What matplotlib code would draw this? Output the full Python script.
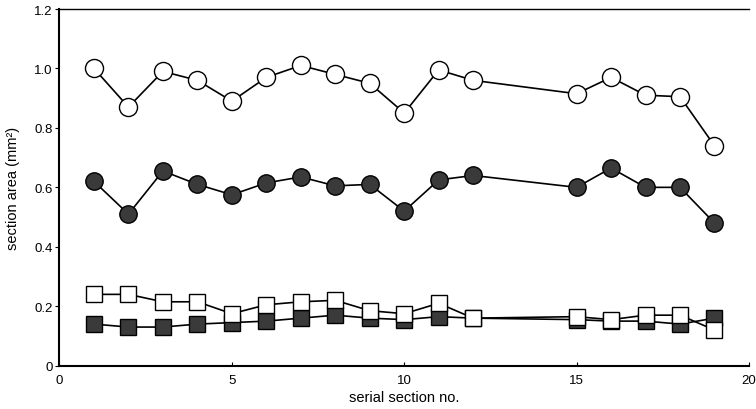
import matplotlib.pyplot as plt
import numpy as np

plt.rcParams['font.family'] = ['Liberation Sans', 'DejaVu Sans']

# serial section numbers (13 and 14 missing)
sec = [1, 2, 3, 4, 5, 6, 7, 8, 9, 10, 11, 12, 15, 16, 17, 18, 19]

open_circ = [1.00, 0.87, 0.99, 0.96, 0.89, 0.97, 1.01, 0.98, 0.95, 0.85,
             0.995, 0.96, 0.915, 0.97, 0.91, 0.905, 0.74]
fill_circ = [0.62, 0.51, 0.655, 0.61, 0.575, 0.615, 0.635, 0.605, 0.61, 0.52,
             0.625, 0.64, 0.60, 0.665, 0.60, 0.60, 0.48]
open_sq = [0.24, 0.24, 0.215, 0.215, 0.175, 0.205, 0.215, 0.22, 0.185, 0.175,
           0.21, 0.16, 0.165, 0.155, 0.17, 0.17, 0.12]
fill_sq = [0.14, 0.13, 0.13, 0.14, 0.145, 0.15, 0.16, 0.17, 0.16, 0.155,
           0.165, 0.16, 0.155, 0.15, 0.15, 0.14, 0.16]

fig = plt.figure(figsize=(7.56, 4.10), dpi=100)
ax = fig.add_axes([0.0787, 0.1056, 0.912, 0.870])

dark = '#3a3a3a'
# squares first so circles sit on top
ax.plot(sec, fill_sq, '-s', color='black', lw=1.2, ms=11.5,
        mfc=dark, mec='black', mew=1.0, zorder=3)
ax.plot(sec, open_sq, '-s', color='black', lw=1.2, ms=11.5,
        mfc='white', mec='black', mew=1.0, zorder=4)
ax.plot(sec, fill_circ, '-o', color='black', lw=1.2, ms=12.5,
        mfc=dark, mec='black', mew=1.0, zorder=3)
ax.plot(sec, open_circ, '-o', color='black', lw=1.2, ms=13,
        mfc='white', mec='black', mew=1.0, zorder=3)

ax.set_xlim(0, 20)
ax.set_ylim(0, 1.2)
ax.set_xticks([0, 5, 10, 15, 20])
ax.set_xticklabels(['0', '5', '10', '15', '20'])
ax.set_yticks([0, 0.2, 0.4, 0.6, 0.8, 1.0, 1.2])
ax.set_yticklabels(['0', '0.2', '0.4', '0.6', '0.8', '1.0', '1.2'])
ax.tick_params(axis='x', direction='in', length=3, labelsize=9.5, pad=6)
ax.tick_params(axis='y', direction='out', length=3, labelsize=9.5, pad=2)

ax.spines['right'].set_visible(False)
for s in ['left', 'bottom']:
    ax.spines[s].set_linewidth(1.5)
ax.spines['top'].set_linewidth(1.0)

ax.set_xlabel('serial section no.', fontsize=10.5, labelpad=3)
ax.set_ylabel('section area (mm²)', fontsize=10.5, labelpad=10)

fig.savefig('out.png', dpi=100)
